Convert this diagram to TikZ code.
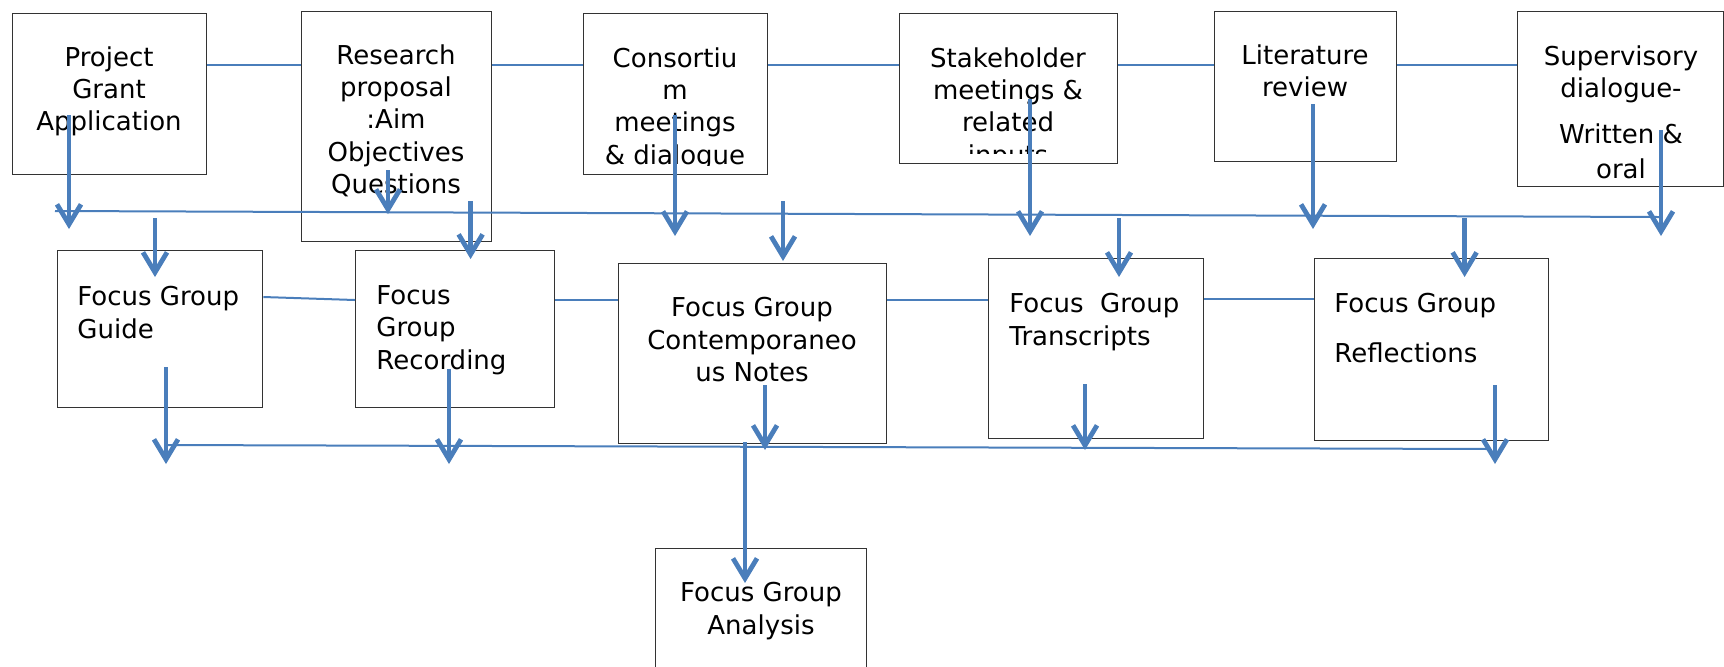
\documentclass[tikz,border=0pt]{standalone}
\usepackage{fontspec}
\setmainfont{DejaVu Sans}
\usetikzlibrary{arrows.meta}
\definecolor{linkblue}{HTML}{4A7EBB}

\begin{document}
\begin{tikzpicture}[x=0.5pt,y=-0.5pt,
  box/.style={draw=black!80,line width=0.7pt,anchor=north west,inner sep=0},
  txt/.style={inner sep=0,anchor=north,align=center,font=\fontsize{13}{16.2}\selectfont},
  ltxt/.style={txt,anchor=north west,align=left},
  link/.style={linkblue,line width=1pt},
  arr/.style={linkblue,line width=2.4pt,-{Straight Barb[length=10pt,width=12pt]}}]
  \useasboundingbox (0,0) rectangle (1724,666);

  \node[box,minimum width=97pt,minimum height=80.5pt] (proj) at (12,13) {};
  \node[box,minimum width=95pt,minimum height=115pt] (res) at (301,11) {};
  \node[box,minimum width=92pt,minimum height=80.5pt] (cons) at (583,13) {};
  \node[box,minimum width=109pt,minimum height=75pt] (stake) at (899,13) {};
  \node[box,minimum width=91pt,minimum height=75pt] (lit) at (1214,11) {};
  \node[box,minimum width=103pt,minimum height=87.5pt] (sup) at (1517,11) {};

  \node[box,minimum width=102.5pt,minimum height=78.5pt] (guide) at (57,250) {};
  \node[box,minimum width=99.5pt,minimum height=78.5pt] (rec) at (355,250) {};
  \node[box,minimum width=134pt,minimum height=90pt] (notes) at (618,263) {};
  \node[box,minimum width=107.5pt,minimum height=90pt] (trans) at (988,258) {};
  \node[box,minimum width=117pt,minimum height=91pt] (refl) at (1314,258) {};
  \node[box,minimum width=105.5pt,minimum height=76pt] (anal) at (655,548) {};

  \node[txt] (projtxt) at (109,46) {Project\\Grant\\Application};
  \node[txt] (restxt) at (396,44) {Research\\proposal\\:Aim\\Objectives\\Questions};
  \begin{scope}
    \clip (cons.north west) rectangle ([yshift=5pt]cons.south east);
    \node[txt] (constxt) at (675,47) {Consortiu\\m\\meetings\\\& dialogue};
  \end{scope}
  \begin{scope}
    \clip (stake.north west) rectangle ([yshift=5.5pt]stake.south east);
    \node[txt] (staketxt) at (1008,47) {Stakeholder\\meetings \&\\related\\inputs};
  \end{scope}
  \node[txt] (littxt) at (1305,44) {Literature\\review};
  \node[txt] (suptxt) at (1621,45) {Supervisory\\dialogue-\\[7pt]Written \&\\[1pt]oral};

  \node[ltxt] (guidetxt) at (77,286) {Focus Group\\Guide};
  \node[ltxt] (rectxt) at (376,285) {Focus\\Group\\Recording};
  \node[txt] (notestxt) at (752,297) {Focus Group\\Contemporaneo\\us Notes};
  \node[ltxt] (transtxt) at (1009,293) {Focus\ \ Group\\Transcripts};
  \node[ltxt] (refltxt) at (1334,293) {Focus Group\\[8.5pt]Reflections};
  \node[txt] (analtxt) at (761,582) {Focus Group\\Analysis};

  \draw[link] (proj.east |- 0,65) -- (res.west |- 0,65);
  \draw[link] (res.east |- 0,65) -- (cons.west |- 0,65);
  \draw[link] (cons.east |- 0,65) -- (stake.west |- 0,65);
  \draw[link] (stake.east |- 0,65) -- (lit.west |- 0,65);
  \draw[link] (lit.east |- 0,65) -- (sup.west |- 0,65);

  \draw[link] (guide.east |- 0,297) -- (rec.west |- 0,300);
  \draw[link] (rec.east |- 0,300) -- (notes.west |- 0,300);
  \draw[link] (notes.east |- 0,300) -- (trans.west |- 0,300);
  \draw[link] (trans.east |- 0,299) -- (refl.west |- 0,299);

  \coordinate (busaw) at (55,211);
  \coordinate (busae) at (1660,217);
  \coordinate (busbw) at (165,445);
  \coordinate (busbe) at (1490,449);
  \draw[link] (busaw) -- (busae);
  \draw[link] (busbw) -- (busbe);

  \foreach \x/\a/\b in {69/115/229,388/170/214,470.6/201/259,155/218/277,
    675/115/236,783/201/261,1030/99/236,1119/218/277,1313/104/229,
    1464.6/218/277,1661/130/236}
    \draw[arr] (\x,\a) -- (\x,\b);
  \foreach \x/\a/\b in {166/367/464,449/369/464,765/385/450,1085/384/450,
    1495/385/464,745/442/583}
    \draw[arr] (\x,\a) -- (\x,\b);
\end{tikzpicture}
\end{document}
